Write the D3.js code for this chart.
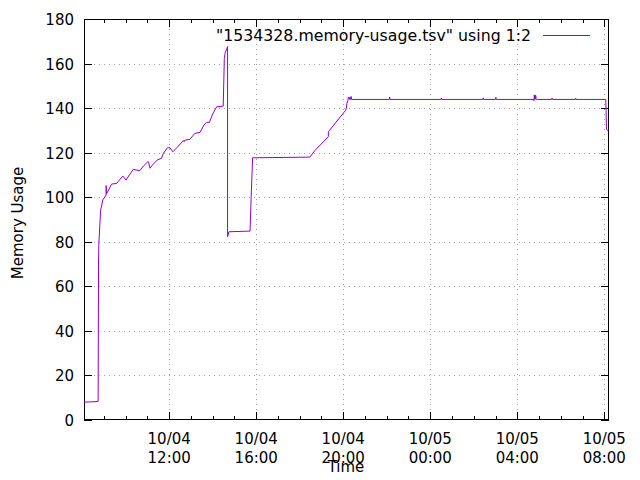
<!DOCTYPE html>
<html><head><meta charset="utf-8">
<script src="https://cdn.jsdelivr.net/npm/d3@7"></script>
<style>body{margin:0;background:#fff;} text{font-family:"DejaVu Sans",sans-serif;}</style>
</head><body><svg id="c" width="640" height="480"></svg>
<script>
const times = ["10/04 08:05","10/04 08:44","10/04 08:45","10/04 08:45","10/04 08:46","10/04 08:49","10/04 08:51","10/04 08:57","10/04 09:06","10/04 09:06","10/04 09:07","10/04 09:09","10/04 09:21","10/04 09:35","10/04 09:52","10/04 10:01","10/04 10:10","10/04 10:21","10/04 10:39","10/04 10:49","10/04 11:01","10/04 11:03","10/04 11:07","10/04 11:14","10/04 11:27","10/04 11:39","10/04 11:44","10/04 11:55","10/04 12:02","10/04 12:10","10/04 12:21","10/04 12:39","10/04 12:41","10/04 12:43","10/04 12:57","10/04 13:11","10/04 13:25","10/04 13:36","10/04 13:43","10/04 13:51","10/04 14:00","10/04 14:11","10/04 14:29","10/04 14:32","10/04 14:34","10/04 14:39","10/04 14:41","10/04 14:41","10/04 14:45","10/04 15:43","10/04 15:46","10/04 15:50","10/04 18:28","10/04 18:42","10/04 19:19","10/04 19:19","10/04 20:07","10/04 20:09","10/04 20:10","10/04 20:13","10/04 20:14","10/04 20:18","10/04 20:19","10/04 20:20","10/04 20:22","10/04 20:23","10/04 22:07","10/04 22:08","10/04 22:09","10/05 00:30","10/05 00:31","10/05 00:32","10/05 02:25","10/05 02:26","10/05 02:27","10/05 03:00","10/05 03:01","10/05 03:02","10/05 04:45","10/05 04:46","10/05 04:47","10/05 04:48","10/05 04:49","10/05 04:50","10/05 04:51","10/05 04:52","10/05 04:53","10/05 05:35","10/05 05:36","10/05 05:37","10/05 06:40","10/05 06:41","10/05 06:42","10/05 08:04","10/05 08:05","10/05 08:06","10/05 08:10","10/05 08:13"];
const values = [8.0,8.3,66.5,70,79.4,88.4,94.3,98.8,101,105.2,101.5,102,105.9,106.2,109.5,107.7,110,112.5,111.9,114,115.9,115.9,113,114.5,116.7,117.5,119.7,122.2,122.2,120.4,122.2,125.4,124.9,125.6,126,128.7,129.1,132.4,133.6,133.6,137.4,140.6,140.9,162.3,164.6,166.8,167.6,82.3,84.5,84.8,100,117.7,118,121,127.2,129.4,139.1,140.5,142,143.5,145,143.9,145,143.9,145.2,143.9,143.9,145,143.9,143.9,144.6,143.9,143.9,144.6,143.9,143.9,144.8,143.9,143.9,143.3,145.9,144,145.9,144,145.6,144,143.9,143.9,144.5,143.9,143.9,144.4,143.9,143.9,139,130.5,130,129.4];
const yTicks = [0,20,40,60,80,100,120,140,160,180];
const xTickTimes = ["10/04 12:00","10/04 16:00","10/04 20:00","10/05 00:00","10/05 04:00","10/05 08:00"];
const xTickLabels = [["10/04","12:00"],["10/04","16:00"],["10/04","20:00"],["10/05","00:00"],["10/05","04:00"],["10/05","08:00"]];
const xDomain = ["10/04 08:05","10/05 08:13"];
const seriesName = "\"1534328.memory-usage.tsv\" using 1:2";

const parse = d3.timeParse("%m/%d %H:%M");
const data = times.map((t,i)=>({t:parse(t), v:values[i]}));
const L=84,R=609,T=19,B=420;
const svg = d3.select("#c");
const x = d3.scaleTime().domain(xDomain.map(parse)).range([L,R]);
const y = d3.scaleLinear().domain([0,180]).range([B,T]);
const fs = 15;

// grid
const g = svg.append("g");
yTicks.forEach(v=>{ if(v>0 && v<180) g.append("line").attr("x1",L).attr("x2",R).attr("y1",Math.round(y(v))+0.5).attr("y2",Math.round(y(v))+0.5).attr("stroke","#a0a0a0").attr("stroke-width",1).attr("stroke-dasharray","1,4"); });
xTickTimes.forEach(t=>{ const xx=Math.round(x(parse(t)))+0.5; g.append("line").attr("x1",xx).attr("x2",xx).attr("y1",T).attr("y2",B).attr("stroke","#a0a0a0").attr("stroke-width",1).attr("stroke-dasharray","1,4"); });

// ticks: minor every hour, major every 4 hours
const hours = d3.timeHour.every(1).range(...xDomain.map(parse));
hours.forEach(h=>{ const xx=Math.round(x(h))+0.5; const major = h.getHours()%4===0; const len = major?8:4;
  g.append("line").attr("x1",xx).attr("x2",xx).attr("y1",B).attr("y2",B-len).attr("stroke","#000");
  g.append("line").attr("x1",xx).attr("x2",xx).attr("y1",T).attr("y2",T+len).attr("stroke","#000");
});
yTicks.forEach(v=>{ const yy=Math.round(y(v))+0.5;
  g.append("line").attr("x1",L).attr("x2",L+8).attr("y1",yy).attr("y2",yy).attr("stroke","#000");
  g.append("line").attr("x1",R).attr("x2",R-8).attr("y1",yy).attr("y2",yy).attr("stroke","#000");
  g.append("text").attr("x",74).attr("y",yy).attr("dy","0.36em").attr("text-anchor","end").attr("font-size",fs).text(v);
});
xTickTimes.forEach((t,i)=>{ const xx=x(parse(t));
  const tx=g.append("text").attr("text-anchor","middle").attr("font-size",fs);
  tx.append("tspan").attr("x",xx).attr("y",444).text(xTickLabels[i][0]);
  tx.append("tspan").attr("x",xx).attr("y",463).text(xTickLabels[i][1]);
});
// frame
g.append("rect").attr("x",L+0.5).attr("y",T+0.5).attr("width",R-L-1).attr("height",B-T-1).attr("fill","none").attr("stroke","#000");

// line
svg.append("path").datum(data).attr("fill","none").attr("stroke","#9400d3").attr("stroke-width",1)
  .attr("d", d3.line().x(d=>x(d.t)).y(d=>y(d.v)));

// labels
svg.append("text").attr("x",346).attr("y",472).attr("text-anchor","middle").attr("font-size",fs).text("Time");
svg.append("text").attr("transform","translate(23,223) rotate(-90)").attr("text-anchor","middle").attr("font-size",fs).text("Memory Usage");

// legend
svg.append("text").attr("x",531).attr("y",41).attr("text-anchor","end").attr("font-size",15.75).text(seriesName);
svg.append("line").attr("x1",543).attr("x2",590).attr("y1",35.5).attr("y2",35.5).attr("stroke","#9400d3");
</script></body></html>
